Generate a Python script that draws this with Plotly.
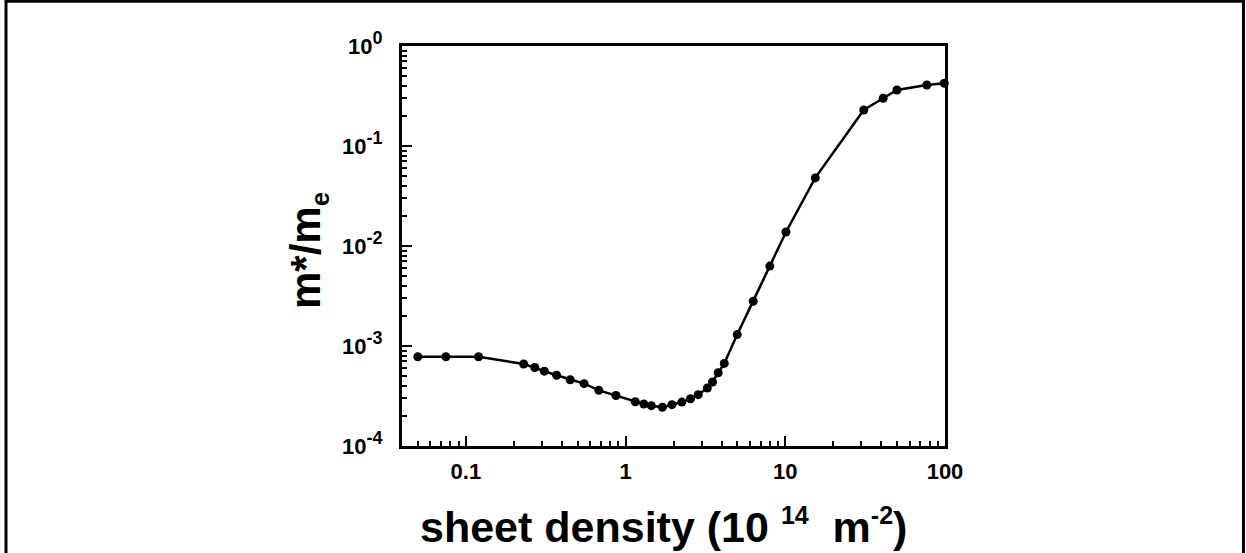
import math
import plotly.graph_objects as go

# sheet density (10^14 m^-2)
density = [0.05, 0.075, 0.12, 0.23, 0.27, 0.31, 0.37, 0.45, 0.55, 0.68, 0.87,
           1.15, 1.3, 1.45, 1.7, 1.95, 2.25, 2.55, 2.85, 3.25, 3.5, 3.8, 4.15,
           5.0, 6.3, 8.0, 10.1, 15.4, 31, 41, 50, 77, 99]
# effective mass m*/m_e
mass = [7.8e-4, 7.8e-4, 7.8e-4, 6.6e-4, 6.1e-4, 5.6e-4, 5.1e-4, 4.6e-4, 4.2e-4,
        3.6e-4, 3.2e-4, 2.77e-4, 2.63e-4, 2.53e-4, 2.44e-4, 2.59e-4, 2.75e-4,
        2.97e-4, 3.26e-4, 3.8e-4, 4.37e-4, 5.4e-4, 6.7e-4, 1.3e-3, 2.8e-3,
        6.3e-3, 1.38e-2, 4.8e-2, 0.229, 0.30, 0.363, 0.407, 0.424]

x_tickvals = [0.1, 1, 10, 100]
x_ticklabels = ["0.1", "1", "10", "100"]
y_tickvals = [1e-4, 1e-3, 1e-2, 1e-1, 1]
y_exponents = ["-4", "-3", "-2", "-1", "0"]

SUP = "<sup><span style='font-size:18px'>{}</span></sup>"
x_ticktext = ["<b>{}</b>".format(t) for t in x_ticklabels]
y_ticktext = ["<b>10" + SUP.format(e) + "</b>" for e in y_exponents]

x_minor = [k * 10 ** e for e in range(-2, 2) for k in range(2, 10)]
y_minor = [k * 10 ** e for e in range(-4, 0) for k in range(2, 10)]

W, H = 1246, 553
L, R, T, B = 402, 945, 46, 446
pw, ph = R - L, B - T

def px(x):
    return (x - L) / pw

def py(y):
    return (B - y) / ph

FONT = "Arial, Liberation Sans, sans-serif"

fig = go.Figure()
fig.add_trace(go.Scatter(
    x=density, y=mass, mode="lines+markers",
    line=dict(color="black", width=2.5),
    marker=dict(color="black", size=9),
    showlegend=False, cliponaxis=False,
))

axis_common = dict(
    showline=True, linecolor="black", linewidth=3, mirror=True,
    ticks="inside", ticklen=10, tickwidth=2, tickcolor="black",
    showgrid=False, zeroline=False,
    tickfont=dict(family=FONT, size=22, color="black"),
)

fig.update_xaxes(
    type="log", range=[-1.40, 2],
    tickmode="array", tickvals=x_tickvals, ticktext=x_ticktext,
    minor=dict(ticks="inside", ticklen=5, tickwidth=2, tickcolor="black",
               tickmode="array", tickvals=x_minor, showgrid=False),
    ticklabelstandoff=4,
    **axis_common,
)
fig.update_yaxes(
    type="log", range=[-4, 0],
    tickmode="array", tickvals=y_tickvals, ticktext=y_ticktext,
    minor=dict(ticks="inside", ticklen=5, tickwidth=2, tickcolor="black",
               tickmode="array", tickvals=y_minor, showgrid=False),
    ticklabelstandoff=12,
    **axis_common,
)

fig.add_annotation(
    xref="paper", yref="paper", x=px(663), y=py(526),
    text=("<b>sheet density (10 <sup><span style='font-size:25px'>14</span></sup>"
          "  m<sup><span style='font-size:25px'>-2</span></sup>)</b>"),
    showarrow=False, xanchor="center", yanchor="middle",
    font=dict(family=FONT, size=43, color="black"),
)
fig.add_annotation(
    xref="paper", yref="paper", x=px(309), y=py(251),
    text="<b>m*/m<sub><span style='font-size:26px'>e</span></sub></b>",
    textangle=-90,
    showarrow=False, xanchor="center", yanchor="middle",
    font=dict(family=FONT, size=42, color="black"),
)

# outer frame (left, top, right)
frame = dict(color="black", width=3)
fig.add_shape(type="line", xref="paper", yref="paper",
              x0=px(6), x1=px(6), y0=py(0), y1=py(H), line=frame)
fig.add_shape(type="line", xref="paper", yref="paper",
              x0=px(5), x1=px(W - 1.5), y0=py(1.3), y1=py(1.3), line=frame)
fig.add_shape(type="line", xref="paper", yref="paper",
              x0=px(W - 2.5), x1=px(W - 2.5), y0=py(0), y1=py(H), line=frame)

fig.update_layout(
    width=W, height=H,
    margin=dict(l=L, r=W - R, t=T, b=H - B, autoexpand=False),
    paper_bgcolor="white", plot_bgcolor="white",
    font=dict(family=FONT, color="black", size=22),
)

fig.write_html("out.html")
